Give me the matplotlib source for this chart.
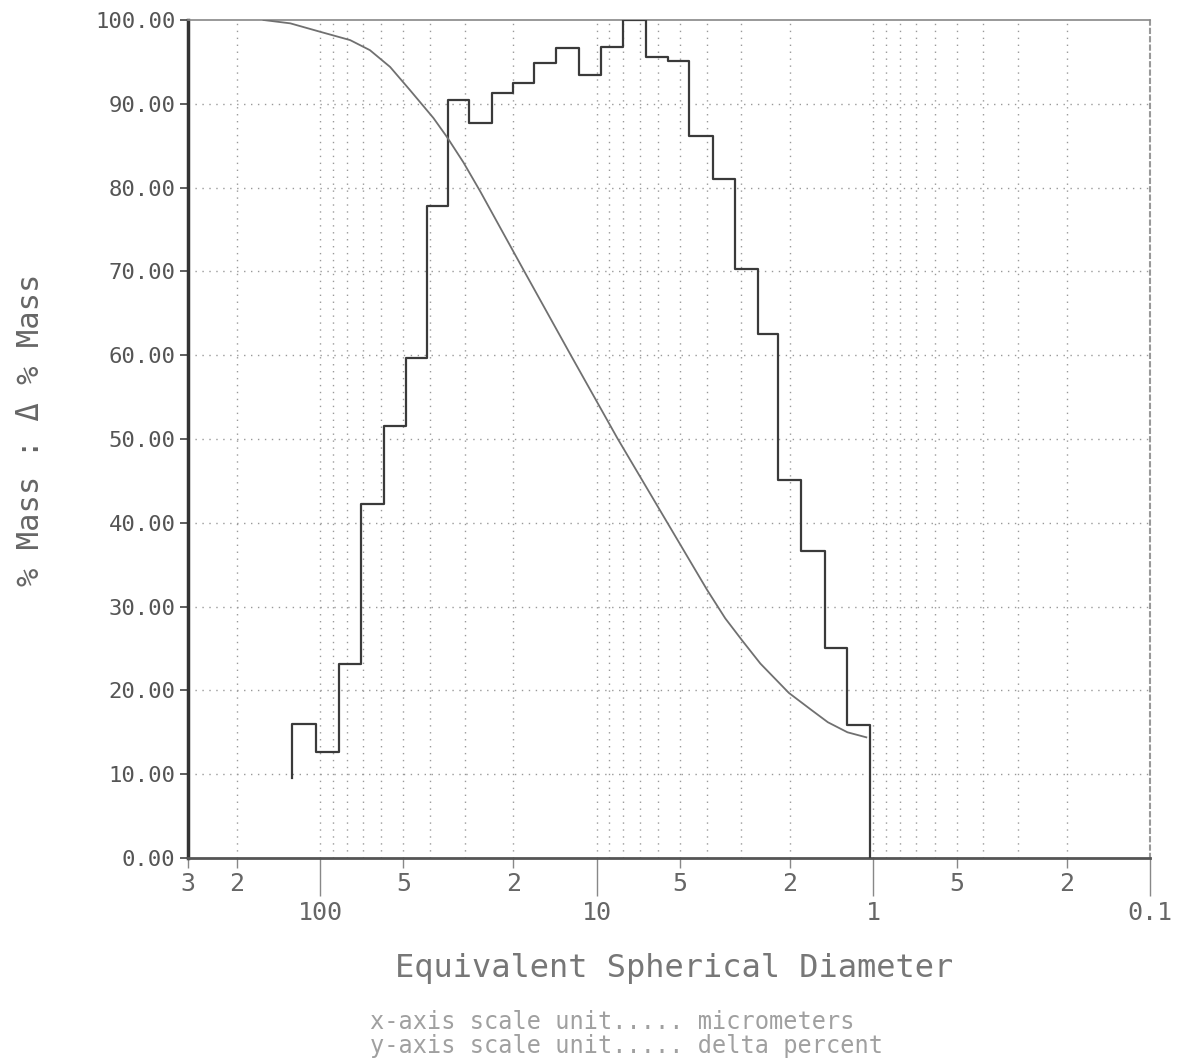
import matplotlib.pyplot as plt
import numpy as np

# histogram (delta % mass), bin edges in micrometers
edges = [126, 103, 85.3, 71.0, 58.6, 48.8, 40.9, 34.4, 28.9, 23.8, 20.0, 16.8, 14.0,
         11.6, 9.67, 8.05, 6.63, 5.53, 4.62, 3.79, 3.17, 2.61, 2.22, 1.83, 1.50, 1.25, 1.03]
delta = [16.0, 12.6, 23.1, 42.2, 51.5, 59.7, 77.8, 90.4, 87.7, 91.3, 92.5, 94.9, 96.6,
         93.4, 96.8, 100.0, 95.6, 95.1, 86.1, 81.0, 70.3, 62.5, 45.1, 36.6, 25.1, 15.9]
hist_start = 9.5
hist_end = 0.0

# cumulative % mass curve
cum_d = [160, 128, 100, 77.8, 66.0, 55.8, 47.2, 38.9, 34.7, 30.3, 26.3, 22.3, 18.4, 12.4,
         8.42, 5.62, 3.99, 3.43, 2.97, 2.56, 2.02, 1.68, 1.46, 1.24, 1.06]
cum_pct = [100.0, 99.6, 98.6, 97.6, 96.4, 94.4, 91.6, 88.3, 86.0, 83.0, 79.5, 75.2, 70.2,
           60.0, 50.1, 40.3, 32.0, 28.6, 25.9, 23.2, 19.7, 17.7, 16.2, 15.0, 14.4]

major_ticks = [100, 10, 1, 0.1]
major_labels = ['100', '10', '1', '0.1']
minor_ticks = [300, 200, 50, 20, 5, 2, 0.5, 0.2]
minor_labels = ['3', '2', '5', '2', '5', '2', '5', '2']
y_ticks = [0, 10, 20, 30, 40, 50, 60, 70, 80, 90, 100]

mono = 'DejaVu Sans Mono'

fig = plt.figure(figsize=(11.8, 10.61), dpi=100)
ax = fig.add_axes([188 / 1180, 1 - 858 / 1061, (1150 - 188) / 1180, (858 - 20) / 1061])
ax.set_xscale('log')
ax.set_xlim(300, 0.1)
ax.set_ylim(0, 100)

# dotted grid
grid_x = []
for dec in [0.1, 1, 10, 100]:
    for k in range(1, 10):
        v = k * dec
        if 0.1 < v < 300:
            grid_x.append(v)
for v in grid_x:
    ax.axvline(v, color='#999999', lw=1, ls=(0, (1, 4)), zorder=1)
for v in y_ticks[1:-1]:
    ax.axhline(v, color='#999999', lw=1, ls=(0, (1, 4)), zorder=1)

# histogram steps
xs = np.repeat(edges, 2)
ys = [hist_start] + list(np.repeat(delta, 2)) + [hist_end]
ax.plot(xs, ys, color='#3a3a3a', lw=1.6, zorder=3)

# cumulative curve
ax.plot(cum_d, cum_pct, color='#707070', lw=1.3, zorder=3)

# spines
ax.spines['left'].set_linewidth(2.5)
ax.spines['left'].set_color('#333333')
ax.spines['bottom'].set_linewidth(2)
ax.spines['bottom'].set_color('#555555')
ax.spines['top'].set_linewidth(1.2)
ax.spines['top'].set_color('#888888')
ax.spines['right'].set_linewidth(1.5)
ax.spines['right'].set_color('#999999')
ax.spines['right'].set_linestyle((0, (2, 2)))

# ticks
ax.set_yticks(y_ticks)
ax.set_yticklabels(['%.2f' % v for v in y_ticks], fontsize=16, family=mono, color='#555555')
ax.tick_params(axis='y', direction='out', length=6, width=1.2, color='#444444', pad=3)

ax.xaxis.set_major_locator(plt.FixedLocator(major_ticks))
ax.xaxis.set_minor_locator(plt.FixedLocator(minor_ticks))
ax.xaxis.set_major_formatter(plt.FixedFormatter(major_labels))
ax.xaxis.set_minor_formatter(plt.FixedFormatter(minor_labels))
ax.tick_params(axis='x', which='major', direction='out', length=27, width=1, color='#888888',
               pad=4, labelsize=18, labelcolor='#666666')
ax.tick_params(axis='x', which='minor', direction='out', length=7, width=1, color='#888888',
               pad=3, labelsize=18, labelcolor='#666666')
for lab in ax.get_xticklabels(which='both'):
    lab.set_family(mono)

fig.text(0.026, 1 - 430 / 1061, '% Mass : \u0394 % Mass', rotation=90, family=mono,
         fontsize=22, color='#666666', ha='center', va='center')
fig.text(674 / 1180, 1 - 968 / 1061, 'Equivalent Spherical Diameter', family=mono,
         fontsize=23, color='#777777', ha='center', va='center')
fig.text(370 / 1180, 1 - 1022 / 1061, 'x-axis scale unit..... micrometers', family=mono,
         fontsize=17, color='#a0a0a0', ha='left', va='center')
fig.text(370 / 1180, 1 - 1046 / 1061, 'y-axis scale unit..... delta percent', family=mono,
         fontsize=17, color='#a0a0a0', ha='left', va='center')

plt.savefig('out.png', dpi=100)
